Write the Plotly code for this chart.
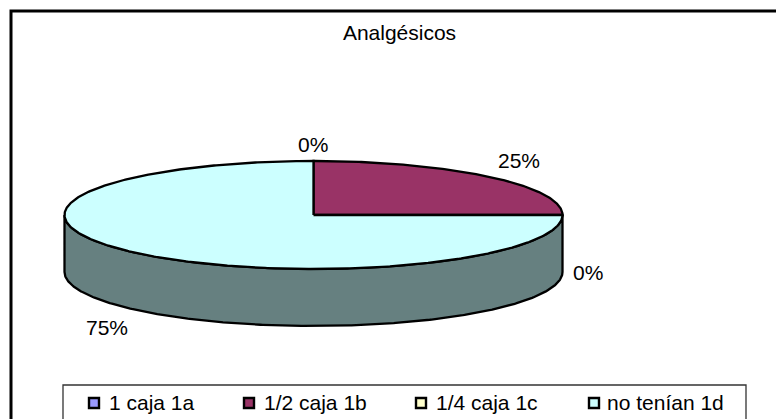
import numpy as np
import plotly.graph_objects as go

TITLE = "Analgésicos"
CATEGORIES = ["1 caja 1a", "1/2 caja 1b", "1/4 caja 1c", "no tenían 1d"]
VALUES = [0, 25, 0, 75]
COLORS = ["#9999FF", "#993366", "#FFFFCC", "#CCFFFF"]
SIDE_COLORS = ["#4D4D80", "#4D1A33", "#808066", "#668080"]

# layout, in pixels of the 776x419 page
WIDTH, HEIGHT = 776, 419
CX, CY, RX, RY, DEPTH = 313.5, 215, 249, 54, 57
LABEL_POS = [(313, 144), (519, 160), (588, 272), (107, 327)]
LEGEND_MARK_X = [94, 249, 421, 594]
LEGEND_TEXT_X = [107, 262, 434, 605]
LEGEND_Y = 403
FONT = "Liberation Sans, Arial, sans-serif"
FONT_SIZE = 21


def rim(a0, a1, dy=0):
    # angles in degrees, clockwise from 12 o'clock
    t = np.radians(np.linspace(a0, a1, max(2, int(abs(a1 - a0)) * 2)))
    return CX + RX * np.sin(t), CY + dy - RY * np.cos(t)


fig = go.Figure()
line = dict(color="black", width=2.3)

total = sum(VALUES)
edges = np.cumsum([0] + VALUES) / total * 360

# wall of the disc, only the part facing the viewer
for i, val in enumerate(VALUES):
    a0, a1 = max(edges[i], 90), min(edges[i + 1], 270)
    if val == 0 or a1 <= a0:
        continue
    x_top, y_top = rim(a0, a1)
    x_bot, y_bot = rim(a0, a1, DEPTH)
    fig.add_trace(go.Scatter(
        x=np.r_[x_top, x_bot[::-1], x_top[0]],
        y=np.r_[y_top, y_bot[::-1], y_top[0]],
        mode="lines", fill="toself", fillcolor=SIDE_COLORS[i],
        line=line, hoverinfo="skip", showlegend=False,
    ))

# top face
for i, val in enumerate(VALUES):
    if val == 0:
        continue
    x_top, y_top = rim(edges[i], edges[i + 1])
    fig.add_trace(go.Scatter(
        x=np.r_[CX, x_top, CX], y=np.r_[CY, y_top, CY],
        mode="lines", fill="toself", fillcolor=COLORS[i],
        line=line, name=CATEGORIES[i], showlegend=False,
        hovertemplate=f"{CATEGORIES[i]}: {val}%<extra></extra>",
    ))

# legend
for i, cat in enumerate(CATEGORIES):
    fig.add_trace(go.Scatter(
        x=[LEGEND_MARK_X[i]], y=[LEGEND_Y], mode="markers", name=cat,
        marker=dict(symbol="square", size=10, color=COLORS[i],
                    line=dict(color="black", width=2.4)),
        hoverinfo="skip", showlegend=False,
    ))

annotations = [
    dict(x=x, y=y, text=f"{round(v / total * 100)}%", showarrow=False)
    for v, (x, y) in zip(VALUES, LABEL_POS)
]
annotations += [
    dict(x=x, y=LEGEND_Y - 1, text=cat, showarrow=False, xanchor="left")
    for cat, x in zip(CATEGORIES, LEGEND_TEXT_X)
]

fig.update_layout(
    title=dict(text=TITLE, x=399.5 / WIDTH, y=1 - 33 / HEIGHT,
               xanchor="center", yanchor="middle",
               font=dict(family=FONT, size=FONT_SIZE, color="black")),
    width=WIDTH, height=HEIGHT,
    margin=dict(l=0, r=0, t=0, b=0),
    paper_bgcolor="white", plot_bgcolor="white",
    font=dict(family=FONT, size=FONT_SIZE, color="black"),
    xaxis=dict(range=[0, WIDTH], visible=False, fixedrange=True),
    yaxis=dict(range=[HEIGHT, 0], visible=False, fixedrange=True),
    annotations=annotations,
    shapes=[
        dict(type="rect", x0=11, y0=11, x1=WIDTH + 20, y1=HEIGHT + 20,
             line=dict(color="black", width=3)),
        dict(type="rect", x0=63, y0=385, x1=746, y1=HEIGHT + 20,
             line=dict(color="#333333", width=1.3)),
    ],
)

fig.write_html(
    "out.html",
    config=dict(displayModeBar=False),
    post_script="document.body.style.margin='0';document.body.style.overflow='hidden';",
)
